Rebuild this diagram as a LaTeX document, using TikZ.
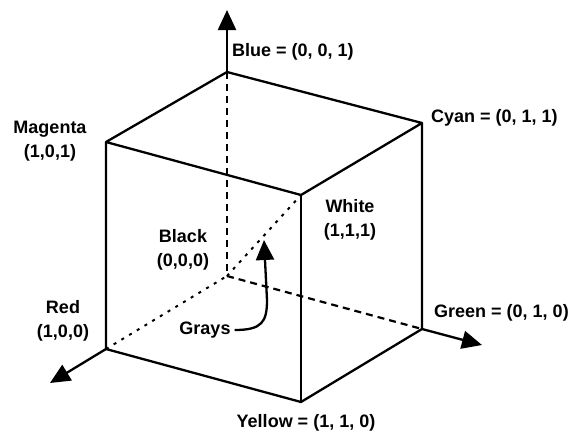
\documentclass[tikz,border=0pt]{standalone}
\usepackage{fontspec}
\setmainfont{Liberation Sans}
\usetikzlibrary{arrows.meta}
\tikzset{
  edge/.style={line width=2.3pt, line join=round},
  axis/.style={line width=2.3pt, -{Triangle[length=20pt, width=18pt]}},
  hidden/.style={line width=2.2pt, dash pattern=on 7pt off 5pt},
  dotline/.style={line width=2pt, dash pattern=on 3pt off 6pt},
  lbl/.style={font=\bfseries\fontsize{18}{24}\selectfont, inner sep=0pt, align=center},
}
\begin{document}
\begin{tikzpicture}[x=1pt, y=-1pt]
  \useasboundingbox (0,0) rectangle (574,434);

  % Cube corners
  \coordinate (K) at (227,276);
  \coordinate (R) at (106,349);
  \coordinate (G) at (422,329);
  \coordinate (B) at (227,72);
  \coordinate (M) at (106,142);
  \coordinate (C) at (422,123);
  \coordinate (W) at (301,195);
  \coordinate (Y) at (301,402);

  % Axis tips
  \coordinate (bluetip) at (227,10);
  \coordinate (redtip) at (50,383);
  \coordinate (greentip) at (482,345);
  \coordinate (graytip) at (264,240);

  % Hidden edges
  \draw[hidden] (B) -- (K);
  \draw[hidden] (K) -- (G);
  \draw[dotline] (R) -- (K);
  \draw[dotline] (K) -- (W);

  % Visible edges
  \draw[edge] (M) -- (B) -- (C) -- (W) -- cycle;
  \draw[edge] (M) -- (R) -- (Y) -- (G) -- (C);
  \draw[edge] (W) -- (Y);

  % Axes
  \draw[axis] (B) -- (bluetip);
  \draw[axis] (R) -- (redtip);
  \draw[axis] (G) -- (greentip);

  % Labels
  \node[lbl, anchor=west] (blue) at (232,52) {Blue = (0, 0, 1)};
  \node[lbl, anchor=west] (cyan) at (431,118) {Cyan = (0, 1, 1)};
  \node[lbl] (magenta) at (50,141) {Magenta\\(1,0,1)};
  \node[lbl] (white) at (350,220) {White\\(1,1,1)};
  \node[lbl] (black) at (183,250) {Black\\(0,0,0)};
  \node[lbl] (red) at (63,321) {Red\\(1,0,0)};
  \node[lbl, anchor=west] (green) at (434,313) {Green = (0, 1, 0)};
  \node[lbl] (yellow) at (306,423) {Yellow = (1, 1, 0)};
  \node[lbl] (grays) at (205,330) {Grays};

  % Gray diagonal pointer
  \draw[axis] (grays.east) ++(4,0) .. controls (262,330) and (267,322) .. (267,300) -- (graytip);
\end{tikzpicture}
\end{document}
